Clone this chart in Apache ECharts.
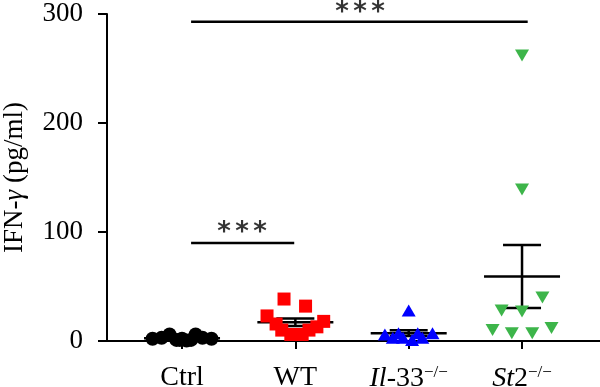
<!DOCTYPE html>
<html><head><meta charset="utf-8">
<script src="https://cdn.jsdelivr.net/npm/echarts@6/dist/echarts.min.js"></script>
<style>html,body{margin:0;padding:0;background:#fff}#c{width:600px;height:387px}</style>
</head><body><div id="c"></div>
<script>
// categories
const categories = ['Ctrl', 'WT', 'Il-33', 'St2'];
const yTicks = [0, 100, 200, 300];
// per-group values (pg/ml) and horizontal scatter offsets (category units)
const ctrlVals = [2, 3, 6, 1, 2, 0.5, 1, 6, 3, 2, 1];
const ctrlOff  = [-0.26, -0.18, -0.11, -0.05, 0.0, 0.04, 0.08, 0.12, 0.18, 0.26, -0.02];
const wtVals = [38.5, 32, 23, 18, 15.6, 13, 10, 10, 6, 6];
const wtOff  = [-0.10, 0.09, -0.25, 0.25, -0.17, 0.19, -0.12, 0.12, -0.04, 0.06];
const il33Vals = [28, 6, 7, 7, 7, 3, 3, 1, 3];
const il33Off  = [0.0, -0.21, -0.09, 0.08, 0.21, -0.14, -0.05, 0.03, 0.12];
const st2Vals = [262, 139, 40, 28, 27, 10, 7, 7, 12];
const st2Off  = [0.0, 0.0, 0.18, -0.18, 0.0, -0.26, -0.09, 0.09, 0.26];
// significance brackets: [x1, x2, y], label position [x, y]
const brackets = [[0.08, 3.05, 293], [0.08, 0.99, 90]];
const starPos = [[1.57, 301], [0.53, 99]];

function pts(vals, off, idx){ return vals.map((v,i)=>[idx+off[i], v]); }
function stats(vals){
  const n = vals.length, m = vals.reduce((a,b)=>a+b,0)/n;
  const sd = Math.sqrt(vals.reduce((a,b)=>a+(b-m)*(b-m),0)/(n-1));
  const se = sd/Math.sqrt(n);
  return [m, m-se, m+se];
}
const groups = [ctrlVals, wtVals, il33Vals, st2Vals];
const errData = groups.map((g,i)=>{ const s = stats(g); return [i, s[0], s[1], s[2]]; });

const chart = echarts.init(document.getElementById('c'), null, {renderer:'canvas'});
const serif = 'Liberation Serif';
chart.setOption({
  animation: false,
  grid: {left: 107, right: 0, top: 14, bottom: 46, containLabel: false, outerBoundsMode: 'none'},
  xAxis: {
    type: 'value', min: -0.662, max: 3.688,
    splitLine: {show: false},
    axisLine: {show: true, onZero: false, lineStyle: {color: '#000', width: 2}},
    axisTick: {show: true, customValues: [0,1,2,3], length: 8, lineStyle: {color: '#000', width: 2}},
    axisLabel: {
      customValues: [0,1,2,3], margin: 23, color: '#000', fontFamily: serif, fontSize: 28,
      formatter: function(v){
        const i = Math.round(v);
        if (i === 0) return 'Ctrl';
        if (i === 1) return 'WT';
        if (i === 2) return '{i|Il}-33{s|−/−}';
        return '{i|St}2{s|−/−}';
      },
      rich: {
        i: {fontStyle: 'italic', fontFamily: serif, fontSize: 28, color: '#000'},
        s: {fontFamily: serif, fontSize: 17, color: '#000', verticalAlign: 'top', padding: [0,0,12,0]}
      }
    }
  },
  yAxis: {
    type: 'value', min: 0, max: 300, interval: 100,
    splitLine: {show: false},
    axisLine: {show: true, onZero: false, lineStyle: {color: '#000', width: 2}},
    axisTick: {show: true, length: 9, lineStyle: {color: '#000', width: 2}},
    axisLabel: {margin: 24, color: '#000', fontFamily: serif, fontSize: 27},
    name: 'IFN-{g|γ} (pg/ml)', nameLocation: 'middle', nameGap: 79,
    nameTextStyle: {color: '#000', fontFamily: serif, fontSize: 27,
      rich: {g: {fontStyle: 'italic', fontFamily: serif, fontSize: 27, color: '#000'}}}
  },
  series: [
    {
      type: 'custom', z: 1, clip: false,
      data: errData,
      renderItem: function(params, api){
        const x = api.value(0);
        const c = api.coord([x, api.value(1)]);
        const lo = api.coord([x, api.value(2)]);
        const hi = api.coord([x, api.value(3)]);
        const st = {stroke: '#000', lineWidth: 2.5};
        return {type: 'group', children: [
          {type: 'line', shape: {x1: c[0]-38, y1: c[1], x2: c[0]+38, y2: c[1]}, style: st},
          {type: 'line', shape: {x1: c[0], y1: lo[1], x2: c[0], y2: hi[1]}, style: st},
          {type: 'line', shape: {x1: c[0]-19, y1: lo[1], x2: c[0]+19, y2: lo[1]}, style: st},
          {type: 'line', shape: {x1: c[0]-19, y1: hi[1], x2: c[0]+19, y2: hi[1]}, style: st}
        ]};
      }
    },
    {type: 'scatter', z: 3, symbol: 'circle', symbolSize: 14, itemStyle: {color: '#000', opacity: 1}, data: pts(ctrlVals, ctrlOff, 0)},
    {type: 'scatter', z: 3, symbol: 'rect', symbolSize: 13, itemStyle: {color: '#ff0000', opacity: 1}, data: pts(wtVals, wtOff, 1)},
    {type: 'scatter', z: 3, symbol: 'triangle', symbolSize: [14, 12], itemStyle: {color: '#0000ff', opacity: 1}, data: pts(il33Vals, il33Off, 2)},
    {type: 'scatter', z: 3, symbol: 'triangle', symbolRotate: 180, symbolSize: [14, 12], itemStyle: {color: '#3db54a', opacity: 1}, data: pts(st2Vals, st2Off, 3)},
    {
      type: 'custom', z: 2, clip: false,
      data: brackets,
      renderItem: function(params, api){
        const a = api.coord([api.value(0), api.value(2)]);
        const b = api.coord([api.value(1), api.value(2)]);
        return {type: 'line', shape: {x1: a[0], y1: a[1], x2: b[0], y2: b[1]}, style: {stroke: '#000', lineWidth: 2.5}};
      }
    },
    {
      type: 'scatter', z: 4, symbolSize: 0, clip: false,
      data: starPos,
      label: {show: true, position: 'inside', formatter: '{s|*}{s|*}{s|*}',
        rich: {s: {width: 18, align: 'center', fontFamily: 'DejaVu Sans', fontWeight: 'bold', fontSize: 26, color: '#000'}}}
    }
  ]
});
</script></body></html>
